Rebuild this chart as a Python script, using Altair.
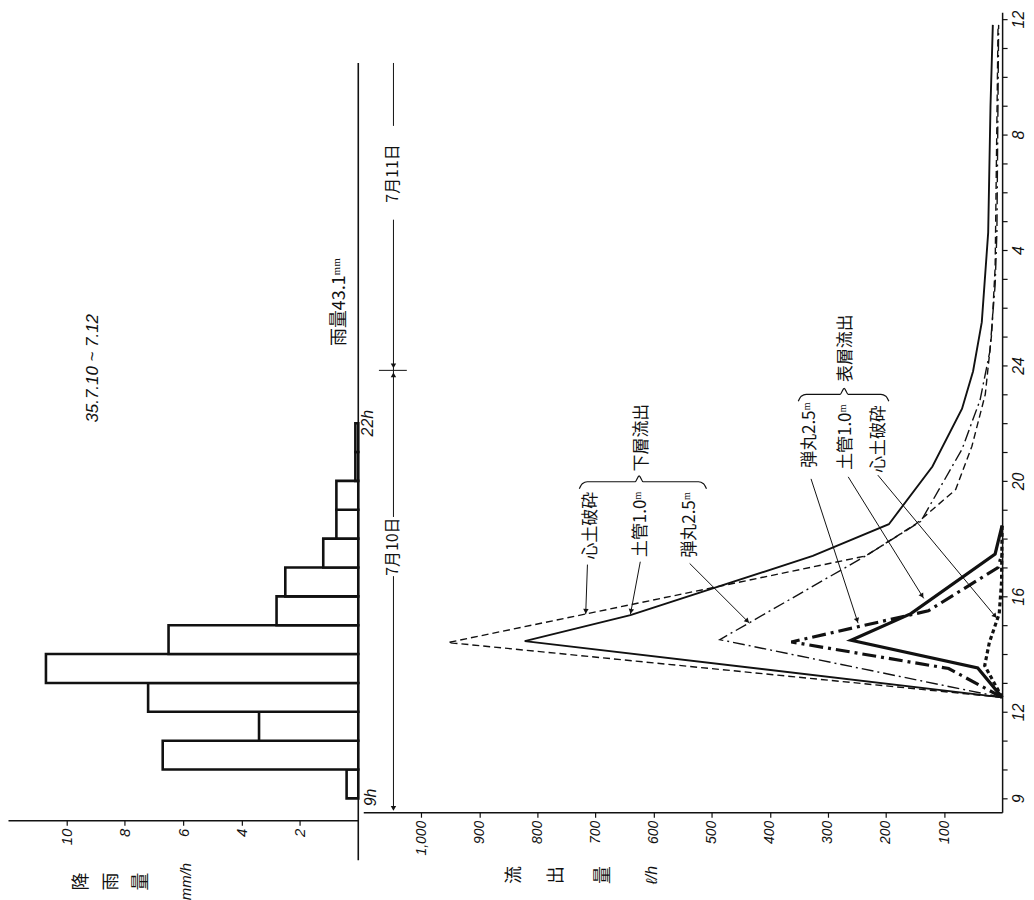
import math
import altair as alt
import pandas as pd

# ---------------- data ----------------
# hourly rainfall, 7/10 from 9h
rain_hour = [9, 10, 11, 12, 13, 14, 15, 16, 17, 18, 19, 20, 21]
rain_mm = [0.4, 6.7, 3.4, 7.2, 10.7, 6.5, 2.8, 2.5, 1.2, 0.75, 0.75, 0.1, 0.1]

# runoff (l/h); time in hours from 0h on 7/10 (24+ = 7/11)
t_sub_shinpa = [12.5, 14.4, 17.4, 18.5, 19.7, 21.2, 23.0, 25.1, 27.4, 35.8]
q_sub_shinpa = [0, 954, 235, 149, 80, 52, 29, 18, 12, 7]
t_sub_dokan = [12.5, 14.45, 15.35, 17.4, 18.5, 20.5, 22.5, 23.8, 25.5, 28.6, 33.0, 35.8]
q_sub_dokan = [0, 822, 640, 326, 195, 120, 69, 50, 35, 24, 20, 16]
t_sub_dangan = [12.5, 14.5, 17.4, 18.6, 21.1, 22.8, 24.5, 26.8, 28.6, 35.8]
q_sub_dangan = [0, 486, 235, 140, 69, 38, 21, 12, 9, 6]
t_surf_dangan = [12.5, 13.5, 14.42, 15.5, 17.0, 17.5]
q_surf_dangan = [0, 92, 363, 127, 7, 0]
t_surf_dokan = [12.5, 13.52, 14.48, 15.4, 17.47, 18.46]
q_surf_dokan = [0, 42, 260, 157, 12, 0]
t_surf_shinpa = [12.5, 13.6, 14.4, 15.4, 16.5, 18.5]
q_surf_shinpa = [0, 30, 22, 5, 1, 0]

rain_ticks = [2, 4, 6, 8, 10]
flow_ticks = [100, 200, 300, 400, 500, 600, 700, 800, 900, 1000]
hour_ticks = list(range(9, 37))
hour_labelled = [9, 12, 16, 20, 24, 28, 32, 36]

# ---------------- geometry / style ----------------
T_DOM = [8.52, 36.24]
H = 804
W_RAIN = 352
W_FLOW = 642
R_DOM = [0, 12]
Q_DOM = [0, 1100]
PX_T = H / (T_DOM[1] - T_DOM[0])
PX_Q = W_FLOW / (Q_DOM[1] - Q_DOM[0])

YS = alt.Scale(domain=T_DOM, nice=False, zero=False)
XR = alt.Scale(domain=R_DOM, reverse=True, nice=False, zero=False)
XQ = alt.Scale(domain=Q_DOM, reverse=True, nice=False, zero=False)

INK = "#111111"
JP = "Noto Sans CJK JP"
LAT = "Liberation Sans"

rain_x_axis = alt.Axis(
    values=rain_ticks, format="d", title=None, orient="bottom", offset=8,
    labelAngle=270, labelAlign="right", labelBaseline="middle",
    tickSize=5, labelPadding=3, labelFont=LAT, labelFontStyle="italic",
    labelFontSize=15, domainWidth=1.5, tickWidth=1.2, grid=False,
    labelFlush=False, labelOverlap=False)
flow_x_axis = alt.Axis(
    values=flow_ticks, format=",d", title=None, orient="bottom",
    labelAngle=270, labelAlign="right", labelBaseline="middle",
    tickSize=5, labelPadding=3, labelFont=LAT, labelFontStyle="italic",
    labelFontSize=14, domainWidth=1.5, tickWidth=1.2, grid=False,
    labelFlush=False, labelOverlap=False)
flow_y_axis = alt.Axis(
    values=hour_ticks, title=None, orient="right",
    labelExpr="indexof(" + str(hour_labelled) + ", datum.value) >= 0 ? '' + (datum.value > 24 ? datum.value - 24 : datum.value) : ''",
    labelAngle=270, labelAlign="center", labelBaseline="top",
    tickSize=5, labelPadding=3, labelFont=LAT, labelFontStyle="italic",
    labelFontSize=16, domainWidth=1.5, tickWidth=1.2, grid=False,
    labelFlush=False, labelOverlap=False)
NO_AXIS = alt.Axis(title=None, labels=False, ticks=False, domain=False, grid=False)


def enc(kind, xf, yf):
    if kind == "rain":
        return dict(x=alt.X(xf, scale=XR, axis=rain_x_axis),
                    y=alt.Y(yf, scale=YS, axis=NO_AXIS))
    return dict(x=alt.X(xf, scale=XQ, axis=flow_x_axis),
                y=alt.Y(yf, scale=YS, axis=flow_y_axis))


def text_layer(rows, kind, font, size, italic=False):
    df = pd.DataFrame(rows, columns=["txt", "x", "t"])
    return alt.Chart(df).mark_text(
        angle=270, font=font, fontSize=size, color=INK,
        fontStyle="italic" if italic else "normal",
        align="center", baseline="middle",
    ).encode(text="txt:N", **enc(kind, "x:Q", "t:Q"))


# ---------------- rainfall panel ----------------
rain_df = pd.DataFrame({
    "t0": rain_hour,
    "t1": [h + 1 for h in rain_hour],
    "r": rain_mm,
    "z": [0] * len(rain_hour),
})
bars = alt.Chart(rain_df).mark_rect(fill="white", stroke=INK, strokeWidth=2.6).encode(
    x2="z:Q", y2="t1:Q", **enc("rain", "r:Q", "t0:Q"))
base_df = pd.DataFrame({"r": [0], "ta": [6.86], "tb": [34.48]})
base = alt.Chart(base_df).mark_rule(color=INK, strokeWidth=1.6).encode(
    y2="tb:Q", **enc("rain", "r:Q", "ta:Q"))
rain_layers = [
    bars, base,
    text_layer([("35.7.10 ~ 7.12", 9.1, 23.9)], "rain", LAT, 17, True),
    text_layer([("雨量43.1ᵐᵐ", 0.62, 26.2)], "rain", JP, 18),
    text_layer([("降", 9.48, 6.12), ("雨", 8.42, 6.12), ("量", 7.40, 6.12)], "rain", JP, 18),
    text_layer([("mm/h", 5.9, 6.12)], "rain", LAT, 15, True),
]
rain = alt.layer(*rain_layers).properties(width=W_RAIN, height=H)

# ---------------- runoff panel ----------------
series = [
    (t_sub_shinpa, q_sub_shinpa, 1.4, [7, 4]),
    (t_sub_dokan, q_sub_dokan, 1.9, None),
    (t_sub_dangan, q_sub_dangan, 1.4, [12, 4, 2, 4]),
    (t_surf_dangan, q_surf_dangan, 3.2, [14, 5, 3, 5]),
    (t_surf_dokan, q_surf_dokan, 3.2, None),
    (t_surf_shinpa, q_surf_shinpa, 3.2, [4, 3]),
]

flow_layers = []
for tt, qq, w, dash in series:
    df = pd.DataFrame({"t": tt, "q": qq})
    mk = dict(color=INK, strokeWidth=w, strokeJoin="miter", strokeCap="butt")
    if dash:
        mk["strokeDash"] = dash
    flow_layers.append(alt.Chart(df).mark_line(**mk).encode(
        order="t:Q", **enc("flow", "q:Q", "t:Q")))

# pointer lines (label -> curve), in data units
pointers = [
    (714, 17.10, 717, 15.38),
    (623, 17.20, 640, 15.38),
    (538, 17.14, 435, 15.07),
    (329, 20.07, 248, 15.07),
    (265, 20.14, 135, 15.93),
    (214, 20.20, 9, 15.24),
]
# date bracket (7/10, 7/11)
QD = 1048
segs = pointers + [
    (QD, 8.62, QD, 16.70), (QD, 18.75, QD, 23.83),
    (QD, 23.83, QD, 29.05), (QD, 32.30, QD, 34.48),
    (1073, 23.83, 1025, 23.83),
]
seg_df = pd.DataFrame(segs, columns=["q1", "t1", "q2", "t2"])
rules = alt.Chart(seg_df).mark_rule(color=INK, strokeWidth=1).encode(
    x2="q2:Q", y2="t2:Q", **enc("flow", "q1:Q", "t1:Q"))


def head(q1, t1, q2, t2, back=3.0):
    dx = -(q2 - q1) * PX_Q
    dy = -(t2 - t1) * PX_T
    n = math.hypot(dx, dy)
    ux, uy = dx / n, dy / n
    ang = math.degrees(math.atan2(dx, -dy)) % 360
    return (q2 + back * ux / PX_Q, t2 + back * uy / PX_T, ang)


heads = [head(*p) for p in pointers]
heads += [head(QD, 12.0, QD, 8.55), head(QD, 20.0, QD, 23.78), head(QD, 27.0, QD, 23.88)]
head_df = pd.DataFrame(heads, columns=["q", "t", "a"])
arrows = alt.Chart(head_df).mark_point(
    shape="triangle-up", filled=True, color=INK, size=30, opacity=1
).encode(angle=alt.Angle("a:Q", scale=None), **enc("flow", "q:Q", "t:Q"))


def brace(q_left, q_tip, q_right, t, name):
    # curly brace laid along the value axis, tip pointing to later time
    xl = -q_left * PX_Q
    xt = -q_tip * PX_Q
    xr = -q_right * PX_Q
    xs = [xl, xl + 3, xl + 8, xt - 4, xt, xt + 4, xr - 8, xr - 3, xr]
    ys = [7, 2, 0, 0, -6, 0, 0, 2, 7]
    return [{"q": -x / PX_Q, "t": t - y / PX_T, "i": i, "b": name}
            for i, (x, y) in enumerate(zip(xs, ys))]


brace_df = pd.DataFrame(brace(728, 625, 509, 19.97, "sub") + brace(351, 272, 195, 23.0, "surf"))
braces = alt.Chart(brace_df).mark_line(color=INK, strokeWidth=1.2, interpolate="monotone").encode(
    order="i:Q", detail="b:N", **enc("flow", "q:Q", "t:Q"))

flow_layers += [rules, arrows, braces]
flow_layers.append(text_layer([
    ("心土破砕", 707, 18.45), ("土管1.0ᵐ", 622, 18.50), ("弾丸2.5ᵐ", 538, 18.48),
    ("下層流出", 620, 21.50),
    ("弾丸2.5ᵐ", 330, 21.59), ("土管1.0ᵐ", 269, 21.52), ("心土破砕", 212, 21.45),
    ("表層流出", 269, 24.60),
], "flow", JP, 17))
flow_layers.append(text_layer([("7月10日", QD, 17.72), ("7月11日", QD, 30.65)], "flow", JP, 16))
flow_layers.append(text_layer([("9h", 1087, 9.03), ("22h", 1091, 22.0)], "flow", LAT, 16, True))
flow_layers.append(text_layer([("流", 839, 6.34), ("出", 767, 6.34), ("量", 685, 6.34)], "flow", JP, 18))
flow_layers.append(text_layer([("ℓ/h", 603, 6.34)], "flow", LAT, 16, True))

flow = alt.layer(*flow_layers).properties(width=W_FLOW, height=H)

chart = alt.hconcat(rain, flow, spacing=5, bounds="flush").resolve_scale(
    x="independent", y="independent"
).properties(padding=0, background="white").configure_view(stroke=None).configure_axis(
    domainColor=INK, tickColor=INK, labelColor=INK
)

chart.save("out.html", embed_options={"renderer": "svg", "actions": False})
